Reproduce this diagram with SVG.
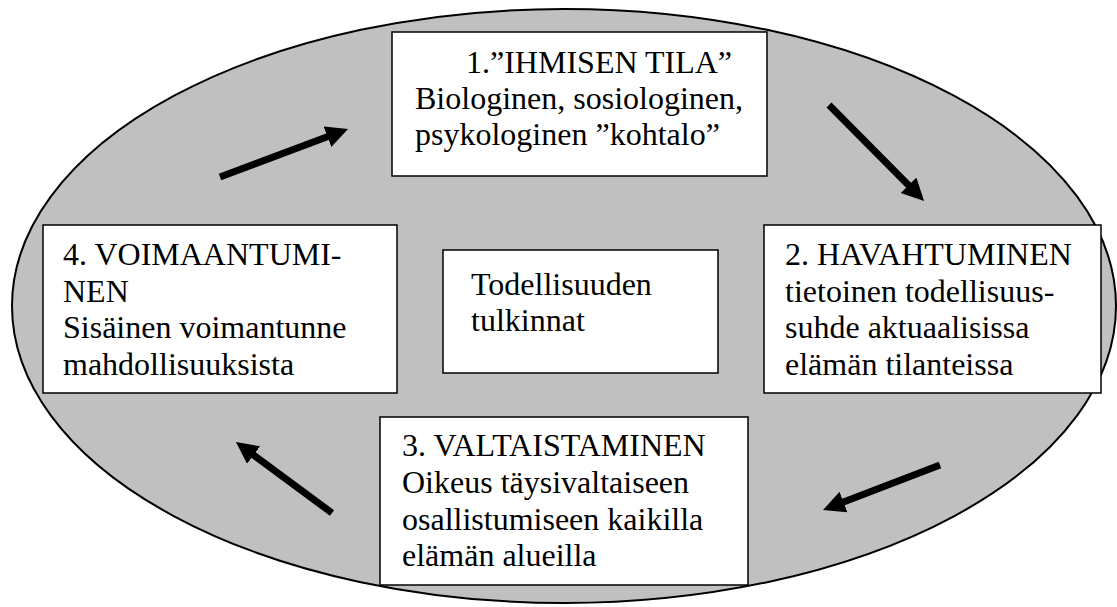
<svg xmlns="http://www.w3.org/2000/svg" width="1117" height="607" viewBox="0 0 1117 607">
<style>
.bg{fill:#c0c0c0;stroke:#000;stroke-width:2}
.box{fill:#fff;stroke:#000;stroke-width:1.5}
.t{font-family:"Liberation Serif","Times New Roman",serif;font-size:32px;fill:#000}
.arr{stroke:#000;stroke-width:7;fill:none}
</style>
<defs>
<marker id="ah" markerUnits="userSpaceOnUse" markerWidth="26" markerHeight="24" refX="7" refY="11" orient="auto">
<path d="M0,0 L22,11 L0,22 Z" fill="#000"/>
</marker>
</defs>
<ellipse class="bg" cx="564" cy="306" rx="552" ry="297"/>
<g id="connectors">
<line class="arr" x1="220" y1="177" x2="334" y2="134.3" marker-end="url(#ah)"/>
<line class="arr" x1="829" y1="105" x2="913.5" y2="190.3" marker-end="url(#ah)"/>
<line class="arr" x1="940" y1="465" x2="837" y2="504.6" marker-end="url(#ah)"/>
<line class="arr" x1="332" y1="513" x2="248" y2="450.9" marker-end="url(#ah)"/>
</g>
<g id="node1">
<rect class="box" x="392" y="32" width="375" height="144"/>
<text class="t" x="466" y="73">1.”IHMISEN TILA”</text>
<text class="t" x="415" y="109">Biologinen, sosiologinen,</text>
<text class="t" x="415" y="145">psykologinen ”kohtalo”</text>
</g>
<g id="node2">
<rect class="box" x="764" y="225" width="337" height="168"/>
<text class="t" x="785" y="265">2. HAVAHTUMINEN</text>
<text class="t" x="785" y="302">tietoinen todellisuus-</text>
<text class="t" x="785" y="338">suhde aktuaalisissa</text>
<text class="t" x="785" y="375">elämän tilanteissa</text>
</g>
<g id="node3">
<rect class="box" x="380" y="417" width="368" height="168"/>
<text class="t" x="402" y="456">3. VALTAISTAMINEN</text>
<text class="t" x="402" y="493">Oikeus täysivaltaiseen</text>
<text class="t" x="402" y="530">osallistumiseen kaikilla</text>
<text class="t" x="402" y="566">elämän alueilla</text>
</g>
<g id="node4">
<rect class="box" x="43" y="225" width="354" height="168"/>
<text class="t" x="63" y="265">4. VOIMAANTUMI-</text>
<text class="t" x="63" y="302">NEN</text>
<text class="t" x="63" y="338">Sisäinen voimantunne</text>
<text class="t" x="63" y="375">mahdollisuuksista</text>
</g>
<g id="center">
<rect class="box" x="443" y="250" width="275" height="123"/>
<text class="t" x="471" y="295">Todellisuuden</text>
<text class="t" x="471" y="331">tulkinnat</text>
</g>
</svg>
